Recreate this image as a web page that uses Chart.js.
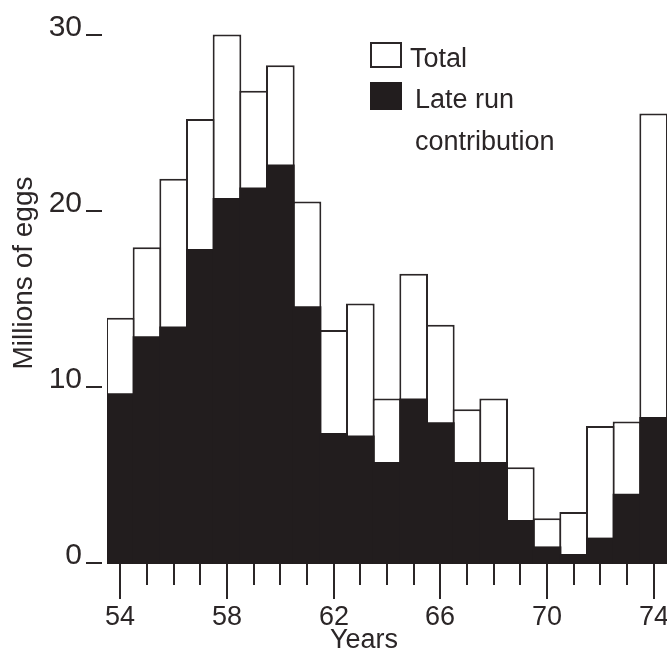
<!DOCTYPE html>
<html>
<head>
<meta charset="utf-8">
<script src="https://cdn.jsdelivr.net/npm/chart.js@4.4.0/dist/chart.umd.min.js"></script>
<style>
  html, body { margin: 0; padding: 0; background: #fff; }
  canvas { display: block; }
</style>
</head>
<body>
<canvas id="eggs-chart" width="667" height="654"></canvas>
<script>
// data (millions of eggs)
const years = ['54', '55', '56', '57', '58', '59', '60', '61', '62', '63', '64',
               '65', '66', '67', '68', '69', '70', '71', '72', '73', '74'];
const totalEggs = [14.0, 18.0, 21.9, 25.3, 30.1, 26.9, 28.35, 20.6, 13.3, 14.8, 9.4,
                   16.5, 13.6, 8.8, 9.4, 5.5, 2.6, 2.95, 7.85, 8.1, 25.6];
const lateRun = [9.7, 12.95, 13.5, 17.9, 20.8, 21.4, 22.7, 14.65, 7.45, 7.3, 5.8,
                 9.4, 8.05, 5.8, 5.8, 2.5, 1.0, 0.57, 1.5, 4.0, 8.35];
const yTicks = [0, 10, 20, 30];
const labelledYears = ['54', '58', '62', '66', '70', '74'];

const INK = '#2b2627';
const FILL = '#221d1e';
const FONT = '"Liberation Sans", Arial, sans-serif';

// axes, legend and titles are drawn by hand to get the old print look
const figureDecor = {
    id: 'figureDecor',
    afterDraw(chart) {
        const {ctx, chartArea, scales: {x, y}} = chart;
        ctx.save();
        ctx.strokeStyle = INK;
        ctx.fillStyle = INK;
        ctx.lineWidth = 2;

        // y axis: "30_" style labels
        ctx.font = '30px ' + FONT;
        ctx.textAlign = 'right';
        ctx.textBaseline = 'alphabetic';
        yTicks.forEach(v => {
            const py = Math.round(y.getPixelForValue(v));
            ctx.fillText(String(v), 82, py);
            ctx.beginPath();
            ctx.moveTo(86, py - 1);
            ctx.lineTo(102, py - 1);
            ctx.stroke();
        });

        // x axis ticks, long ones carry a label
        ctx.font = '27px ' + FONT;
        ctx.textAlign = 'center';
        years.forEach((yr, i) => {
            const px = Math.round(x.getPixelForValue(i));
            const long = labelledYears.includes(yr);
            ctx.beginPath();
            ctx.moveTo(px, chartArea.bottom);
            ctx.lineTo(px, chartArea.bottom + (long ? 35 : 21));
            ctx.stroke();
            if (long) ctx.fillText(yr, px, 625);
        });

        ctx.fillText('Years', 364, 648);

        // y title
        ctx.save();
        ctx.translate(32, 273);
        ctx.rotate(-Math.PI / 2);
        ctx.font = '28px ' + FONT;
        ctx.fillText('Millions of eggs', 0, 0);
        ctx.restore();

        // legend
        ctx.font = '27px ' + FONT;
        ctx.strokeRect(371, 43, 30, 24);
        ctx.fillStyle = FILL;
        ctx.fillRect(370, 82, 32, 28);
        ctx.fillStyle = INK;
        ctx.textAlign = 'left';
        ctx.fillText('Total', 410, 67);
        ctx.fillText('Late run', 415, 108);
        ctx.fillText('contribution', 415, 150);

        ctx.restore();
    }
};

new Chart(document.getElementById('eggs-chart'), {
    type: 'bar',
    data: {
        labels: years,
        datasets: [
            {
                label: 'Late run contribution',
                data: lateRun,
                backgroundColor: FILL,
                borderWidth: 0,
                grouped: false,
                order: 1,
                barPercentage: 1.075,
                categoryPercentage: 1
            },
            {
                label: 'Total',
                data: totalEggs,
                backgroundColor: '#ffffff',
                borderColor: INK,
                borderWidth: {top: 2, left: 2, right: 2, bottom: 0},
                grouped: false,
                order: 2,
                barPercentage: 1.075,
                categoryPercentage: 1
            }
        ]
    },
    options: {
        responsive: false,
        animation: false,
        layout: {
            padding: {left: 107, right: 0, top: 1, bottom: 90}
        },
        plugins: {
            legend: {display: false},
            tooltip: {enabled: false}
        },
        scales: {
            x: {display: false},
            y: {display: false, min: 0, max: 32}
        }
    },
    plugins: [figureDecor]
});
</script>
</body>
</html>
